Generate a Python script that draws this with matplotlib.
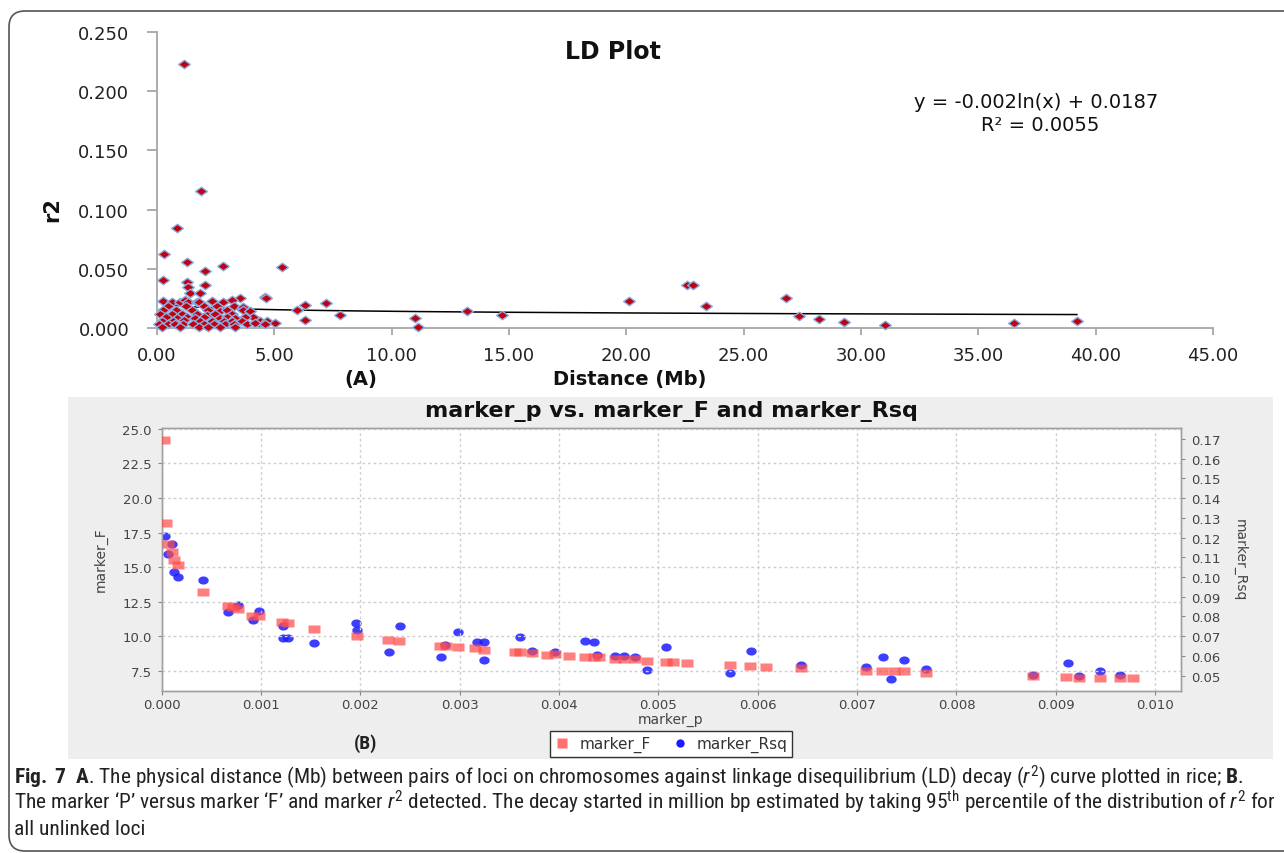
import numpy as np
import matplotlib
matplotlib.use("Agg")
import matplotlib.pyplot as plt
from matplotlib.path import Path
from matplotlib.patches import FancyBboxPatch, Rectangle
from matplotlib.lines import Line2D
from matplotlib import font_manager as fm

# ---------------- data: panel A (LD decay) ----------------
dist_mb = [1.16, 1.88, 0.87, 0.31, 0.27, 1.29, 2.05, 2.80, 5.31, 1.29, 1.34, 1.41,
           2.04, 1.83, 3.54, 4.60, 4.66, 6.31, 7.19, 5.95, 6.31, 7.80, 11.00, 11.14,
           13.20, 14.69, 20.13, 22.60, 22.85, 23.40, 26.80, 27.36, 28.23, 29.28,
           31.03, 36.53, 39.20,
           0.24, 0.63, 0.98, 1.19, 1.34, 1.69, 1.80, 2.33, 2.80, 3.18,
           0.47, 1.23, 2.00, 2.57, 3.28, 3.68,
           0.27, 0.81, 1.48, 2.19, 2.69, 2.97, 3.65, 3.97,
           0.13, 0.63, 1.06, 1.69, 2.12, 2.48, 3.18, 4.10,
           0.39, 0.85, 1.28, 1.60, 2.00, 2.69, 2.98, 3.33, 3.76, 4.33,
           0.20, 0.70, 1.16, 1.84, 2.33, 2.84, 3.19, 3.62, 4.40, 4.68, 5.03,
           0.10, 0.48, 0.77, 1.12, 1.55, 2.01, 2.41, 2.91, 3.26, 3.83, 4.19, 4.62,
           0.20, 0.98, 1.77, 2.19, 2.69, 3.33]
r2_vals = [0.223, 0.1155, 0.0842, 0.0622, 0.0405, 0.0555, 0.0484, 0.0526, 0.0515, 0.0386,
           0.0344, 0.0293, 0.0363, 0.0296, 0.0251, 0.0266, 0.0250, 0.0197, 0.0214, 0.0152,
           0.0066, 0.0110, 0.0084, 0.0006, 0.0144, 0.0110, 0.0231, 0.0363, 0.0363, 0.0189,
           0.0251, 0.0099, 0.0073, 0.0048, 0.0023, 0.0040, 0.0057,
           0.0230, 0.0222, 0.0222, 0.0236, 0.0220, 0.0222, 0.0218, 0.0230, 0.0217, 0.0239,
           0.0188, 0.0186, 0.0190, 0.0185, 0.0188, 0.0178,
           0.0152, 0.0150, 0.0155, 0.0150, 0.0147, 0.0153, 0.0150, 0.0146,
           0.0118, 0.0120, 0.0115, 0.0118, 0.0112, 0.0120, 0.0116, 0.0095,
           0.0090, 0.0088, 0.0092, 0.0087, 0.0090, 0.0088, 0.0092, 0.0086, 0.0090, 0.0042,
           0.0062, 0.0060, 0.0064, 0.0060, 0.0062, 0.0058, 0.0063, 0.0060, 0.0062, 0.0062, 0.0042,
           0.0034, 0.0036, 0.0032, 0.0034, 0.0030, 0.0035, 0.0033, 0.0034, 0.0030, 0.0036, 0.0040, 0.0034,
           0.0006, 0.0008, 0.0005, 0.0007, 0.0006, 0.0008]
x_ticks_a = [0, 5, 10, 15, 20, 25, 30, 35, 40, 45]
y_ticks_a = [0.0, 0.05, 0.10, 0.15, 0.20, 0.25]
trend_a, trend_b = -0.002, 0.0187        # y = a ln(x) + b
trend_range = (0.2, 39.2)

# ---------------- data: panel B (marker statistics) ----------------
p_F = [0.000023, 0.000043, 0.000067, 0.0001, 0.000127, 0.00016, 0.000413, 0.00067,
       0.00072, 0.00077, 0.000906, 0.00098, 0.00121, 0.001275, 0.001534, 0.001964,
       0.002282, 0.002393, 0.002803, 0.002863, 0.00298, 0.003155, 0.003246, 0.003558,
       0.003608, 0.003726, 0.003877, 0.003961, 0.004102, 0.004263, 0.004347, 0.004404,
       0.004565, 0.004649, 0.00476, 0.004884, 0.005075, 0.005145, 0.005287, 0.005723,
       0.005924, 0.006086, 0.006438, 0.007092, 0.00725, 0.007368, 0.007468, 0.007697,
       0.008771, 0.009107, 0.009238, 0.009442, 0.009644, 0.009775]
marker_F = [24.2, 18.22, 16.68, 16.08, 15.54, 15.14, 13.22, 12.17, 12.1, 11.97, 11.49,
            11.44, 11.0, 10.96, 10.5, 10.04, 9.70, 9.63, 9.31, 9.31, 9.2, 9.12, 9.02,
            8.88, 8.86, 8.76, 8.66, 8.7, 8.57, 8.52, 8.47, 8.47, 8.38, 8.38, 8.33, 8.22,
            8.15, 8.15, 8.08, 7.94, 7.86, 7.80, 7.72, 7.5, 7.48, 7.45, 7.45, 7.36,
            7.12, 7.05, 7.0, 7.0, 6.95, 6.95]
p_R = [0.000033, 0.0001, 0.000067, 0.000127, 0.00016, 0.000413, 0.00067, 0.000765,
       0.000916, 0.00098, 0.001218, 0.001218, 0.001275, 0.001534, 0.001957, 0.001964,
       0.002292, 0.0024, 0.00281, 0.002853, 0.00298, 0.00317, 0.00324, 0.00324,
       0.003608, 0.003726, 0.003961, 0.004263, 0.004354, 0.004381, 0.004565, 0.004649,
       0.00476, 0.004884, 0.005075, 0.005723, 0.005934, 0.006438, 0.007092, 0.00726,
       0.007341, 0.007469, 0.007697, 0.008771, 0.00912, 0.009238, 0.009449, 0.00965]
marker_Rsq = [0.1207, 0.1168, 0.1117, 0.1024, 0.0999, 0.0984, 0.0821, 0.086, 0.0784,
              0.0828, 0.0750, 0.0693, 0.069, 0.0666, 0.0766, 0.0733, 0.0619, 0.0754,
              0.0593, 0.0656, 0.0723, 0.0669, 0.0669, 0.0578, 0.0696, 0.0627, 0.0618,
              0.0674, 0.0673, 0.0605, 0.0600, 0.0597, 0.0596, 0.053, 0.0647, 0.0512,
              0.0625, 0.0556, 0.0542, 0.0596, 0.0483, 0.0578, 0.0534, 0.0504, 0.0563,
              0.05, 0.0524, 0.0504]
x_ticks_b = [0.000, 0.001, 0.002, 0.003, 0.004, 0.005, 0.006, 0.007, 0.008, 0.009, 0.010]
yl_ticks_b = [7.5, 10.0, 12.5, 15.0, 17.5, 20.0, 22.5, 25.0]
yr_ticks_b = [0.05, 0.06, 0.07, 0.08, 0.09, 0.10, 0.11, 0.12, 0.13, 0.14, 0.15, 0.16, 0.17]

# ---------------- figure helpers ----------------
W, H = 1284, 854
fig = plt.figure(figsize=(W / 100, H / 100), dpi=100)
fig.patch.set_facecolor("white")


def fx(px):
    return px / W


def fy(py):
    return 1 - py / H


# caption font: prefer a condensed sans if one is installed
ttf = fm.fontManager.ttflist
names = {f.name for f in ttf}
cap_family, cap_stretch = "DejaVu Sans", "normal"
for cand in ["Roboto Condensed", "Liberation Sans Narrow"]:
    if cand in names:
        cap_family = cand
        break
else:
    if any(f.name == "DejaVu Sans" and str(f.stretch) in ("condensed", "semi-condensed", "75", "87")
           for f in ttf):
        cap_family, cap_stretch = "DejaVu Sans", "condensed"
    elif "Liberation Sans" in names:
        cap_family = "Liberation Sans"

pat = cap_family if cap_stretch == "normal" else f"{cap_family}:{cap_stretch}"
plt.rcParams["mathtext.fontset"] = "custom"
plt.rcParams["mathtext.rm"] = pat
plt.rcParams["mathtext.it"] = pat + ":italic"
plt.rcParams["mathtext.bf"] = pat + ":bold"

# outer rounded frame (right edge runs past the canvas)
frame = FancyBboxPatch((9 / 100, (H - 852) / 100), (1300 - 9) / 100, (852 - 12) / 100,
                       boxstyle="round,pad=0,rounding_size=0.16",
                       transform=fig.dpi_scale_trans, fill=False,
                       edgecolor="#555555", linewidth=1.2, zorder=0)
fig.add_artist(frame)

# ---------------- panel A ----------------
axA = fig.add_axes([fx(157), fy(329), (1213 - 157) / W, (329 - 33) / H])
diamond = Path([(-1, 0), (0, 0.72), (1, 0), (0, -0.72), (-1, 0)],
               [Path.MOVETO, Path.LINETO, Path.LINETO, Path.LINETO, Path.CLOSEPOLY])
axA.plot(dist_mb, r2_vals, linestyle="none", marker=diamond, markersize=8.5,
         markerfacecolor="#c0000e", markeredgecolor="#8aaee0", markeredgewidth=1.0,
         zorder=3, clip_on=False)
xt = np.linspace(trend_range[0], trend_range[1], 400)
axA.plot(xt, trend_a * np.log(xt) + trend_b, color="black", linewidth=1.1, zorder=2)
axA.set_xlim(0, 45)
axA.set_ylim(0, 0.25)
for s in ["top", "right"]:
    axA.spines[s].set_visible(False)
for s in ["left", "bottom"]:
    axA.spines[s].set_color("#a6a6a6")
    axA.spines[s].set_linewidth(1.3)
axA.set_xticks(x_ticks_a)
axA.set_xticklabels([f"{v:.2f}" for v in x_ticks_a])
axA.set_yticks(y_ticks_a)
axA.set_yticklabels([f"{v:.3f}" for v in y_ticks_a])
axA.tick_params(axis="both", direction="out", color="#a6a6a6", width=1.3,
                labelsize=13, labelcolor="#222222")
axA.tick_params(axis="y", length=7, pad=13)
axA.tick_params(axis="x", length=5, pad=8)

fig.text(fx(613), fy(52), "LD Plot", ha="center", va="center", fontsize=17,
         fontweight="bold", color="#111111")
fig.text(fx(1036), fy(102), "y = -0.002ln(x) + 0.0187", ha="center", va="center",
         fontsize=14, color="#111111")
fig.text(fx(1040), fy(126), "R² = 0.0055", ha="center", va="center",
         fontsize=14, color="#111111")
fig.text(fx(52), fy(210), "r2", ha="center", va="center", rotation=90,
         fontsize=15, fontweight="bold", color="#111111")
fig.text(fx(630), fy(380), "Distance (Mb)", ha="center", va="center", fontsize=14,
         fontweight="bold", color="#111111")
fig.text(fx(361), fy(380), "(A)", ha="center", va="center", fontsize=14,
         fontweight="bold", color="#111111")

# ---------------- panel B ----------------
fig.add_artist(Rectangle((fx(68), fy(760)), (1273 - 68) / W, (760 - 398) / H,
                         transform=fig.transFigure, facecolor="#eeeeee",
                         edgecolor="none", zorder=0))

axB = fig.add_axes([fx(161.7), fy(692), (1181 - 161.7) / W, (692 - 429) / H])
axR = axB.twinx()
# red series drawn on top of the blue one
axR.set_zorder(1)
axB.set_zorder(2)
axR.patch.set_visible(True)
axR.patch.set_facecolor("white")
axB.patch.set_visible(False)

ellipse_t = np.linspace(0, 2 * np.pi, 40)
ellipse = Path(np.column_stack([np.cos(ellipse_t), 0.78 * np.sin(ellipse_t)]))
rect = Path([(-1, -0.75), (1, -0.75), (1, 0.75), (-1, 0.75), (-1, -0.75)],
            [Path.MOVETO, Path.LINETO, Path.LINETO, Path.LINETO, Path.CLOSEPOLY])

axR.plot(p_R, marker_Rsq, linestyle="none", marker=ellipse, markersize=7.5,
         markerfacecolor="#1c1cff", markeredgecolor="none", alpha=0.85, zorder=3)
axB.plot(p_F, marker_F, linestyle="none", marker=rect, markersize=8.6,
         markerfacecolor="#ff4d4d", markeredgecolor="none", alpha=0.72, zorder=3)

axB.set_xlim(0, 0.01026)
axB.set_ylim(6.03, 25.07)
axR.set_ylim(0.0422, 0.1756)
axB.set_xticks(x_ticks_b)
axB.set_xticklabels([f"{v:.3f}" for v in x_ticks_b])
axB.set_yticks(yl_ticks_b)
axB.set_yticklabels([f"{v:.1f}" for v in yl_ticks_b])
axR.set_yticks(yr_ticks_b)
axR.set_yticklabels([f"{v:.2f}" for v in yr_ticks_b])
axB.grid(True, color="#cfcfcf", linestyle=(0, (2, 2)), linewidth=1.0, zorder=0)
axB.set_axisbelow(True)
for a in (axB, axR):
    for s in a.spines.values():
        s.set_color("#a0a0a0")
        s.set_linewidth(1.0)
    a.tick_params(direction="out", length=3, color="#888888", labelsize=9.5,
                  labelcolor="#444444", pad=4)
axB.tick_params(axis="x", pad=2)

fig.text(fx(671), fy(412), "marker_p vs. marker_F and marker_Rsq", ha="center",
         va="center", fontsize=16, fontweight="bold", color="#111111")
fig.text(fx(671), fy(720), "marker_p", ha="center", va="center", fontsize=10,
         color="#444444")
fig.text(fx(101), fy(560), "marker_F", ha="center", va="center", rotation=90,
         fontsize=10, color="#444444")
fig.text(fx(1240), fy(560), "marker_Rsq", ha="center", va="center", rotation=270,
         fontsize=10, color="#444444")
fig.text(fx(366), fy(744), "(B)", ha="center", va="center", fontsize=14,
         fontweight="bold", family=cap_family, fontstretch=cap_stretch, color="#222222")

handles = [Line2D([], [], linestyle="none", marker="s", markersize=6.5,
                  markerfacecolor="#ff4d4d", markeredgecolor="none", alpha=0.8),
           Line2D([], [], linestyle="none", marker="o", markersize=6,
                  markerfacecolor="#1c1cff", markeredgecolor="none")]
leg = fig.legend(handles, ["marker_F", "marker_Rsq"], loc="center",
                 bbox_to_anchor=(fx(671), fy(745)), ncol=2, fontsize=11,
                 frameon=True, fancybox=False, edgecolor="#333333", framealpha=1,
                 handlelength=1.0, handletextpad=0.6, columnspacing=1.4,
                 borderpad=0.3, labelcolor="#333333")
leg.get_frame().set_linewidth(1.0)

# ---------------- caption ----------------
cap_lines = [
    r"$\mathbf{Fig.\ 7}$  $\mathbf{A}$. The physical distance (Mb) between pairs of loci on "
    r"chromosomes against linkage disequilibrium (LD) decay ($\mathit{r}^{2}$) curve plotted "
    r"in rice; $\mathbf{B}$.",
    r"The marker ‘P’ versus marker ‘F’ and marker $\mathit{r}^{2}$ detected. The decay started "
    r"in million bp estimated by taking 95$^{\mathrm{th}}$ percentile of the distribution of "
    r"$\mathit{r}^{2}$ for",
    "all unlinked loci",
]
cap_baselines = [784, 809.5, 835]
cap_texts = [fig.text(fx(14), fy(b), s, ha="left", va="baseline", fontsize=12,
                      family=cap_family, fontstretch=cap_stretch, color="#222222")
             for s, b in zip(cap_lines, cap_baselines)]

# scale the caption so the widest line fits the text block
renderer = fig.canvas.get_renderer()
w1 = cap_texts[0].get_window_extent(renderer).width
w2 = cap_texts[1].get_window_extent(renderer).width
scale = min((1266 - 14) / w1, (1276 - 14) / w2)
for t in cap_texts:
    t.set_fontsize(12 * scale)

fig.savefig("out.png", dpi=100, facecolor="white")
